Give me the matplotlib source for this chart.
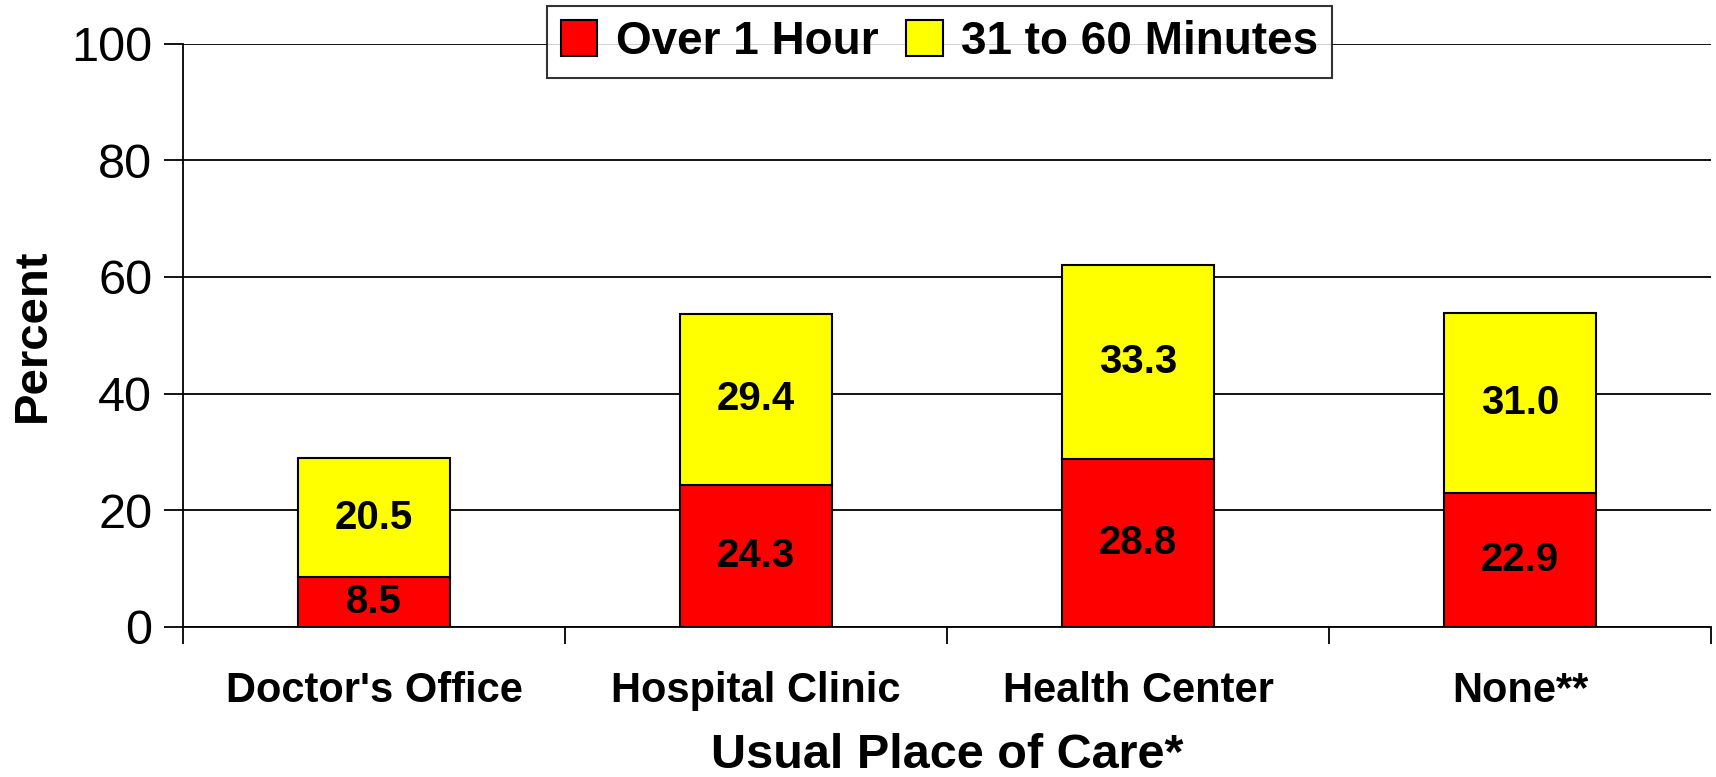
import numpy as np
import matplotlib
matplotlib.use("Agg")
import matplotlib.pyplot as plt
from matplotlib.ticker import FixedLocator, NullFormatter

# data
categories = ["Doctor's Office", "Hospital Clinic", "Health Center", "None**"]
over_1_hour = [8.5, 24.3, 28.8, 22.9]
min_31_60 = [20.5, 29.4, 33.3, 31.0]
y_ticks = [0, 20, 40, 60, 80, 100]

plt.rcParams["font.family"] = ["Liberation Sans", "DejaVu Sans"]

fig = plt.figure(figsize=(17.16, 7.77), dpi=100)
ax = fig.add_axes([0.1066, 0.1931, 0.8905, 0.7507])

x = np.arange(len(categories))
w = 0.4
ax.bar(x, over_1_hour, w, color="#ff0000", edgecolor="black", linewidth=1.5,
       label="Over 1 Hour", zorder=3)
ax.bar(x, min_31_60, w, bottom=over_1_hour, color="#ffff00", edgecolor="black",
       linewidth=1.5, label="31 to 60 Minutes", zorder=3)

# value labels in the middle of each segment
for i in range(len(categories)):
    ax.text(x[i], over_1_hour[i] / 2, f"{over_1_hour[i]:.1f}", ha="center", va="center",
            fontsize=29, fontweight="bold", zorder=4)
    ax.text(x[i], over_1_hour[i] + min_31_60[i] / 2, f"{min_31_60[i]:.1f}", ha="center",
            va="center", fontsize=29, fontweight="bold", zorder=4)

ax.set_xlim(-0.5, len(categories) - 0.5)
ax.set_ylim(0, 100)
ax.set_yticks(y_ticks)
ax.yaxis.grid(True, color="black", linewidth=1.3, zorder=1)
ax.set_axisbelow(True)

# category labels at centres, tick marks at boundaries
ax.set_xticks(x)
ax.set_xticklabels(categories, fontsize=30, fontweight="bold")
ax.tick_params(axis="x", which="major", length=0, pad=32)
ax.xaxis.set_minor_locator(FixedLocator(np.arange(len(categories) + 1) - 0.5))
ax.xaxis.set_minor_formatter(NullFormatter())
ax.tick_params(axis="x", which="minor", length=12, width=1.3, direction="out")
ax.tick_params(axis="y", length=14, width=1.3, labelsize=35, pad=8)

for s in ["top", "right"]:
    ax.spines[s].set_visible(False)
for s in ["left", "bottom"]:
    ax.spines[s].set_linewidth(1.3)

ax.set_xlabel("Usual Place of Care*", fontsize=35, fontweight="bold")
ax.xaxis.set_label_coords(0.5, -0.221)
ax.xaxis.label.set_va("center")
ax.set_ylabel("Percent", fontsize=34, fontweight="bold")
ax.yaxis.set_label_coords(-0.098, 0.5)
ax.yaxis.label.set_va("center")

leg = ax.legend(loc="center", bbox_to_anchor=(0.495, 1.003), ncol=2,
                prop={"weight": "bold", "size": 33}, frameon=True, fancybox=False,
                handlelength=0.8, handleheight=0.8, handletextpad=0.4, columnspacing=0.6,
                borderpad=0.3, borderaxespad=0)
leg.get_frame().set_edgecolor("black")
leg.get_frame().set_linewidth(1.5)
leg.set_zorder(5)

fig.savefig("out.png", dpi=100)
